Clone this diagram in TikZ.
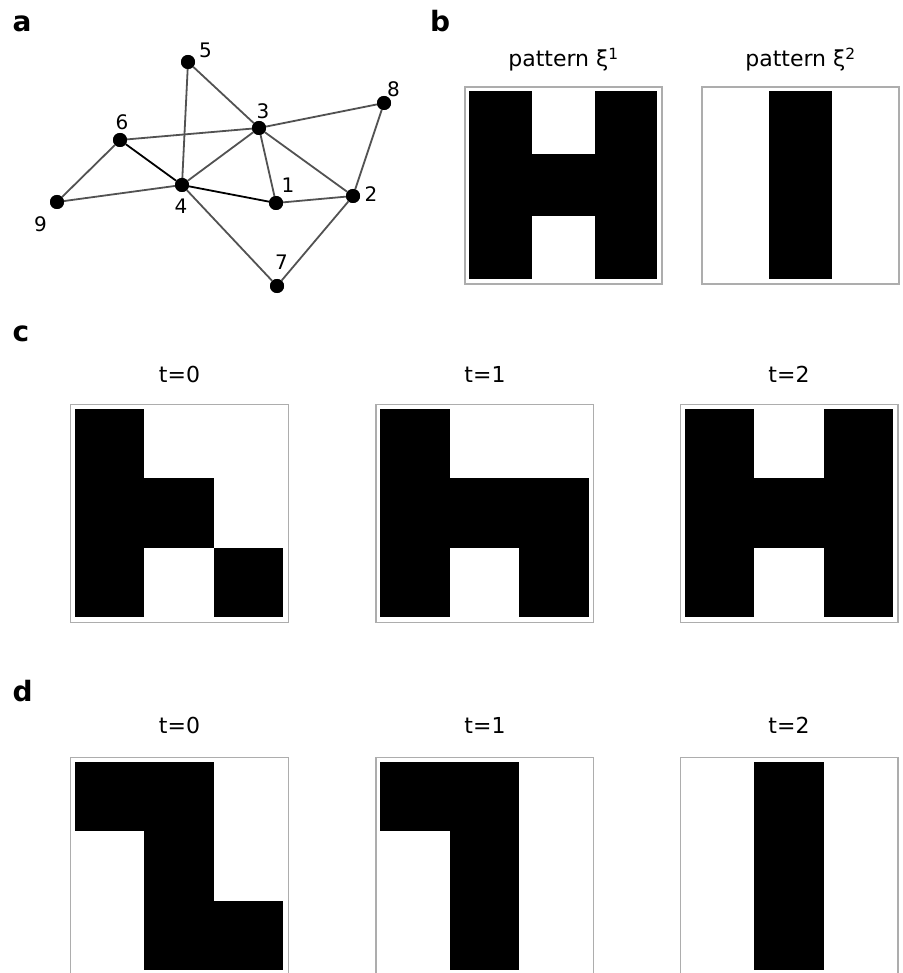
\documentclass[tikz,border=0pt]{standalone}
\usepackage{fontspec}
\setmainfont{DejaVu Sans}
\begin{document}
\begin{tikzpicture}[x=1pt,y=-1pt,
  vtx/.style={circle,fill=black,inner sep=0pt,minimum size=14pt},
  vlab/.style={font=\fontsize{20}{20}\selectfont,inner sep=0pt},
  edg/.style={draw=black!68,line width=1.8pt},
  edgk/.style={draw=black,line width=1.8pt},
  panel/.style={font=\fontsize{28}{28}\selectfont\bfseries,inner sep=0pt,anchor=base west},
  ttl/.style={font=\fontsize{22}{22}\selectfont,inner sep=0pt,anchor=base},
  frm/.style={draw=black!32,line width=1.3pt}]
\useasboundingbox (0,0) rectangle (902,973);
\clip (0,0) rectangle (902,973);
\newcommand\cellgrid[4]{\foreach \c/\r in {#4} {\fill[black] (#1+\c*#3,#2+\r*#3) rectangle ++(#3,#3);}}
% panel letters
\node[panel] (la) at (12.5,32) {a};
\node[panel] (lb) at (430,32) {b};
\node[panel] (lc) at (12.5,341) {c};
\node[panel] (ld) at (12.5,701) {d};
% graph
\node[vtx] (n1) at (276,203) {};
\node[vtx] (n2) at (353,196) {};
\node[vtx] (n3) at (259,128) {};
\node[vtx] (n4) at (182,185) {};
\node[vtx] (n5) at (188,62) {};
\node[vtx] (n6) at (120,140) {};
\node[vtx] (n7) at (277,286) {};
\node[vtx] (n8) at (384,103) {};
\node[vtx] (n9) at (57,202) {};
\draw[edg] (n5) -- (n4);
\draw[edg] (n5) -- (n3);
\draw[edg] (n6) -- (n3);
\draw[edg] (n3) -- (n8);
\draw[edg] (n6) -- (n9);
\draw[edg] (n4) -- (n3);
\draw[edg] (n3) -- (n1);
\draw[edg] (n3) -- (n2);
\draw[edg] (n9) -- (n4);
\draw[edg] (n1) -- (n2);
\draw[edg] (n8) -- (n2);
\draw[edg] (n4) -- (n7);
\draw[edg] (n7) -- (n2);
\draw[edgk] (n6) -- (n4);
\draw[edgk] (n4) -- (n1);
\node[vtx] at (n1) {};\node[vtx] at (n2) {};\node[vtx] at (n3) {};
\node[vtx] at (n4) {};\node[vtx] at (n5) {};\node[vtx] at (n6) {};
\node[vtx] at (n7) {};\node[vtx] at (n8) {};\node[vtx] at (n9) {};
\node[vlab] (t1) at (288,185.5) {1};
\node[vlab] (t2) at (371,194) {2};
\node[vlab] (t3) at (263,111.5) {3};
\node[vlab] (t4) at (181,206) {4};
\node[vlab] (t5) at (205.5,50) {5};
\node[vlab] (t6) at (122,122) {6};
\node[vlab] (t7) at (281.5,262) {7};
\node[vlab] (t8) at (393.5,89) {8};
\node[vlab] (t9) at (40.5,224) {9};
% panel b
\node[ttl] (tb1) at (563.5,67) {pattern ξ\textsuperscript{1}};
\node[ttl] (tb2) at (800.5,67) {pattern ξ\textsuperscript{2}};
\draw[frm] (465,87) rectangle (662,284);
\draw[frm] (702,87) rectangle (899,284);
\cellgrid{469.3}{91}{62.67}{0/0,0/1,0/2,1/1,2/0,2/1,2/2}
\cellgrid{706.3}{91}{62.67}{1/0,1/1,1/2}
% panel c
\node[ttl] (tc0) at (179.5,382) {t=0};
\node[ttl] (tc1) at (485,382) {t=1};
\node[ttl] (tc2) at (789,382) {t=2};
\draw[frm] (70.7,404.7) rectangle (288.3,622.3);
\draw[frm] (376,404.7) rectangle (593.6,622.3);
\draw[frm] (680.4,404.7) rectangle (898,622.3);
\cellgrid{75}{409}{69.45}{0/0,0/1,0/2,1/1,2/2}
\cellgrid{380.3}{409}{69.45}{0/0,0/1,0/2,1/1,2/1,2/2}
\cellgrid{684.7}{409}{69.45}{0/0,0/1,0/2,1/1,2/0,2/1,2/2}
% panel d
\node[ttl] (td0) at (179.5,733) {t=0};
\node[ttl] (td1) at (485,733) {t=1};
\node[ttl] (td2) at (789,733) {t=2};
\draw[frm] (70.7,757.7) rectangle (288.3,975.3);
\draw[frm] (376,757.7) rectangle (593.6,975.3);
\draw[frm] (680.4,757.7) rectangle (898,975.3);
\cellgrid{75}{762}{69.45}{0/0,1/0,1/1,1/2,2/2}
\cellgrid{380.3}{762}{69.45}{0/0,1/0,1/1,1/2}
\cellgrid{684.7}{762}{69.45}{1/0,1/1,1/2}
\end{tikzpicture}
\end{document}
